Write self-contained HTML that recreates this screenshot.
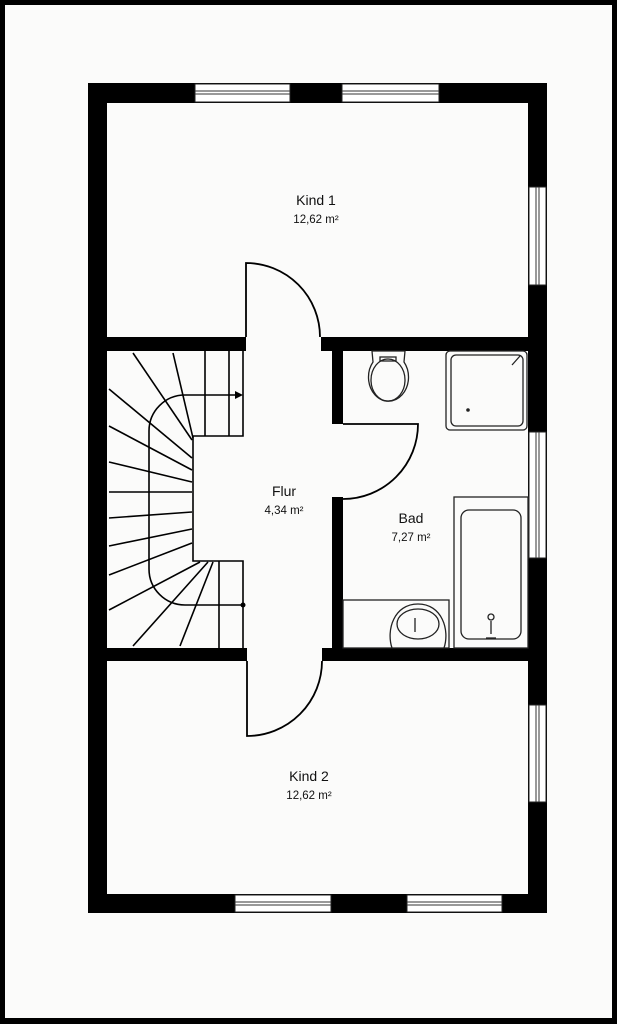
<!DOCTYPE html>
<html><head><meta charset="utf-8"><style>
html,body{margin:0;padding:0;background:#fff}
body{width:617px;height:1024px;overflow:hidden}
svg{display:block}
text{font-family:"Liberation Sans",sans-serif;fill:#111;text-anchor:middle}
</style></head><body>
<svg width="617" height="1024" viewBox="0 0 617 1024" xmlns="http://www.w3.org/2000/svg">
<rect x="0" y="0" width="617" height="1024" fill="#000"/>
<rect x="5" y="5" width="607" height="1013" fill="#fbfbfa"/>

<g fill="#000">
<rect x="88" y="83" width="459" height="20"/>
<rect x="88" y="894" width="459" height="19"/>
<rect x="88" y="83" width="19" height="830"/>
<rect x="528" y="83" width="19" height="830"/>
<rect x="107" y="337" width="139" height="14"/>
<rect x="321" y="337" width="207" height="14"/>
<rect x="107" y="648" width="140" height="13"/>
<rect x="322" y="648" width="206" height="13"/>
<rect x="332" y="351" width="11" height="73"/>
<rect x="332" y="497" width="11" height="151"/>
</g>

<g fill="#fff" stroke="#222" stroke-width="1">
<rect x="195" y="84" width="95" height="18"/>
<rect x="342" y="84" width="97" height="18"/>
<rect x="235" y="895" width="96" height="17"/>
<rect x="407" y="895" width="95" height="17"/>
<rect x="529" y="187" width="17" height="98"/>
<rect x="529" y="432" width="17" height="126"/>
<rect x="529" y="705" width="17" height="97"/>
</g>
<g stroke="#333" stroke-width="1">
<line x1="195" y1="91" x2="290" y2="91"/><line x1="195" y1="94" x2="290" y2="94"/>
<line x1="342" y1="91" x2="439" y2="91"/><line x1="342" y1="94" x2="439" y2="94"/>
<line x1="235" y1="902" x2="331" y2="902"/><line x1="235" y1="905" x2="331" y2="905"/>
<line x1="407" y1="902" x2="502" y2="902"/><line x1="407" y1="905" x2="502" y2="905"/>
<line x1="536" y1="187" x2="536" y2="285"/><line x1="539" y1="187" x2="539" y2="285"/>
<line x1="536" y1="432" x2="536" y2="558"/><line x1="539" y1="432" x2="539" y2="558"/>
<line x1="536" y1="705" x2="536" y2="802"/><line x1="539" y1="705" x2="539" y2="802"/>
</g>

<g fill="none" stroke="#000" stroke-width="1.8">
<path d="M246 337 V263 A74 74 0 0 1 320 337"/>
<path d="M343 424 H418 A75 75 0 0 1 343 499"/>
<path d="M247 661 V736 A75 75 0 0 0 322 661"/>
</g>

<g fill="none" stroke="#000" stroke-width="1.6">
<path d="M243 351 V436 H193 V561 H243 V648"/>
<path d="M238 395 H185 A36 36 0 0 0 149 431 V569 A36 36 0 0 0 185 605 H243"/>
<line x1="205" y1="351" x2="205" y2="436"/>
<line x1="229" y1="351" x2="229" y2="436"/>
<line x1="219" y1="561" x2="219" y2="648"/>
<line x1="133" y1="353" x2="192" y2="440"/>
<line x1="173" y1="353" x2="193" y2="438"/>
<line x1="109" y1="389" x2="192" y2="458"/>
<line x1="109" y1="426" x2="192" y2="470"/>
<line x1="109" y1="462" x2="192" y2="482"/>
<line x1="109" y1="492" x2="192" y2="492"/>
<line x1="109" y1="518" x2="192" y2="512"/>
<line x1="109" y1="546" x2="192" y2="529"/>
<line x1="109" y1="575" x2="192" y2="543"/>
<line x1="109" y1="610" x2="200" y2="562"/>
<line x1="133" y1="646" x2="208" y2="562"/>
<line x1="180" y1="646" x2="213" y2="562"/>
</g>
<path d="M243 395 L235 391 L235 399 Z" fill="#000"/>
<circle cx="243" cy="605" r="2.5" fill="#000"/>

<g fill="none" stroke="#222" stroke-width="1.3">
<path d="M372 351 H405 L404 362 A20 24 0 1 1 373 362 Z"/>
<ellipse cx="388" cy="380" rx="17" ry="21"/>
<rect x="380" y="357" width="16" height="4"/>
<rect x="446" y="351" width="81" height="79" rx="4"/>
<rect x="451" y="355" width="72" height="71" rx="5"/>
<line x1="512" y1="365" x2="520" y2="356"/>
<rect x="454" y="497" width="74" height="151"/>
<rect x="461" y="510" width="60" height="129" rx="8"/>
<circle cx="491" cy="617" r="3"/>
<line x1="491" y1="621" x2="491" y2="634"/>
<line x1="486" y1="638" x2="496" y2="638"/>
<rect x="343" y="600" width="106" height="48"/>
<path d="M392 648 C386 630 394 604 418 604 C442 604 450 630 444 648"/>
<ellipse cx="418" cy="624" rx="21" ry="15"/>
<line x1="415" y1="618" x2="415" y2="632"/>
</g>
<circle cx="468" cy="410" r="1.8" fill="#222"/>

<text x="316" y="205" font-size="14">Kind 1</text>
<text x="316" y="223" font-size="11.5">12,62 m²</text>
<text x="284" y="496" font-size="14">Flur</text>
<text x="284" y="514" font-size="11.5">4,34 m²</text>
<text x="411" y="523" font-size="14">Bad</text>
<text x="411" y="541" font-size="11.5">7,27 m²</text>
<text x="309" y="781" font-size="14">Kind 2</text>
<text x="309" y="799" font-size="11.5">12,62 m²</text>
</svg>
</body></html>
